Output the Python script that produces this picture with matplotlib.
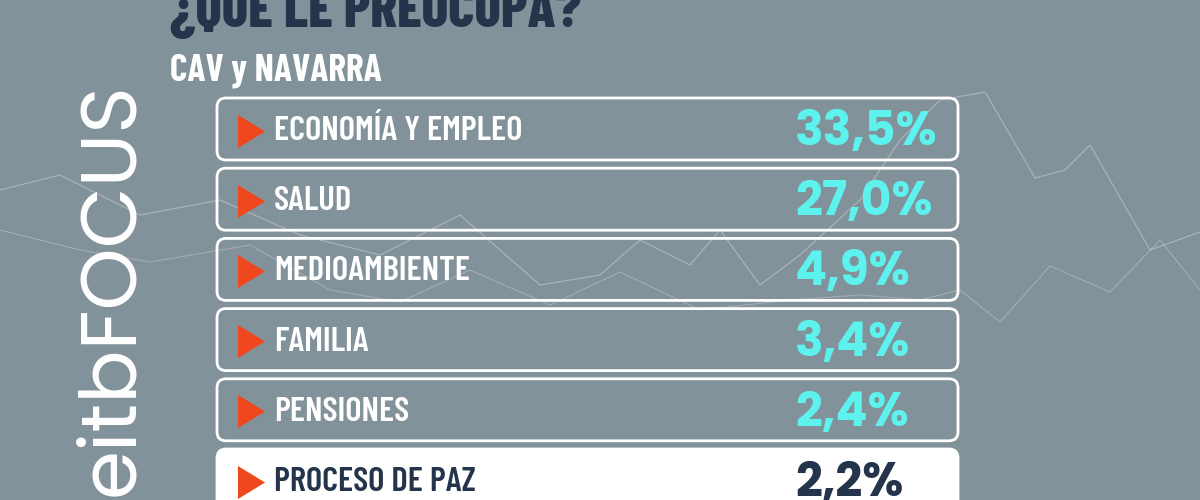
import matplotlib
matplotlib.use("Agg")
import matplotlib.pyplot as plt
from matplotlib.patches import FancyBboxPatch

# chart data
title = "¿QUÉ LE PREOCUPA?"
subtitle = "CAV y NAVARRA"
categories = ["ECONOMÍA Y EMPLEO", "SALUD", "MEDIOAMBIENTE", "FAMILIA",
              "PENSIONES", "PROCESO DE PAZ"]
values = [33.5, 27.0, 4.9, 3.4, 2.4, 2.2]
highlight = [False, False, False, False, False, True]

# faint background decoration (canvas units)
deco_a_x = [0, 60, 140, 220, 300, 380, 460, 540, 600, 640, 690, 720, 760, 800,
            860, 900, 940, 985, 1035, 1065, 1090, 1150, 1200]
deco_a_y = [190, 175, 215, 200, 235, 255, 215, 285, 275, 240, 265, 230, 285, 255,
            200, 140, 100, 92, 178, 170, 145, 250, 232]
deco_b_x = [0, 80, 150, 250, 330, 400, 470, 550, 620, 700, 790, 860, 920, 960,
            1000, 1050, 1110, 1160, 1200]
deco_b_y = [230, 250, 262, 245, 290, 302, 270, 305, 272, 310, 300, 295, 300, 290,
            322, 266, 292, 240, 290]

BG = "#82929a"
NAVY = "#24344a"
CYAN = "#5ef2ee"
ORANGE = "#f0481e"

cond = ['Barlow Condensed', 'Roboto Condensed', 'DejaVu Sans']
geo = ['Poppins', 'Lato', 'DejaVu Sans']

fig = plt.figure(figsize=(12, 5), dpi=100)
fig.patch.set_facecolor(BG)
ax = fig.add_axes([0, 0, 1, 1])
ax.set_facecolor(BG)
ax.set_xlim(0, 1200)
ax.set_ylim(500, 0)
ax.axis('off')

ax.plot(deco_a_x, deco_a_y, color="white", lw=0.9, alpha=0.3, zorder=1)
ax.plot(deco_b_x, deco_b_y, color="white", lw=0.8, alpha=0.25, zorder=1)

ax.text(170, 27, title, color=NAVY, fontsize=40, fontweight='heavy',
        family=cond, va='baseline', ha='left', zorder=3)
ax.text(170, 80, subtitle, color="white", fontsize=27, fontweight='bold',
        family=cond, va='baseline', ha='left', zorder=3)

# vertical logo, reads bottom to top
ax.text(133, 82, "eitbFOCUS", color="white", fontsize=57, family=geo,
        fontweight='normal', rotation=90, rotation_mode='anchor',
        ha='right', va='baseline', zorder=3)

tri = [(-0.82, -1), (-0.82, 1), (0.82, 0)]
row_top, row_step, row_h = 98, 70.2, 62
box_x, box_w = 217, 741
for i, (cat, val, hl) in enumerate(zip(categories, values, highlight)):
    top = row_top + i * row_step
    cy = top + row_h / 2
    box = FancyBboxPatch((box_x, top), box_w, row_h,
                         boxstyle="round,pad=0,rounding_size=9",
                         facecolor="white" if hl else "none",
                         edgecolor="white", lw=2, zorder=2)
    ax.add_patch(box)
    ax.plot([250.5], [cy + 1.5], marker=tri, markersize=23.8, color=ORANGE,
            markeredgewidth=0, zorder=3)
    ax.text(274, cy + 11, cat, color=NAVY if hl else "white", fontsize=25,
            fontweight='semibold', family=cond, va='baseline', ha='left', zorder=3)
    ax.text(795, cy + 16, f"{val:.1f}%".replace('.', ','),
            color=NAVY if hl else CYAN, fontsize=34, fontweight='bold',
            family=geo, va='baseline', ha='left', zorder=3)

fig.savefig("out.png", dpi=100, facecolor=BG)
